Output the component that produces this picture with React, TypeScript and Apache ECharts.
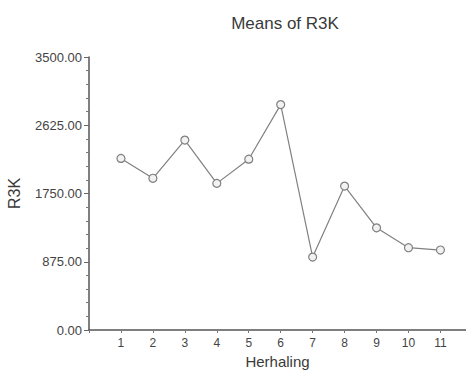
import React, { useEffect, useRef } from "react";
import * as echarts from "echarts";

const categories = [1, 2, 3, 4, 5, 6, 7, 8, 9, 10, 11];
const means = [2200, 1945, 2435, 1880, 2190, 2890, 935, 1845, 1310, 1055, 1025];
const yTicks = [0, 875, 1750, 2625, 3500];

export default function App() {
  const ref = useRef<HTMLDivElement>(null);
  useEffect(() => {
    const chart = echarts.init(ref.current!, null, { renderer: "svg" });
    const font = "Liberation Sans, Arial, sans-serif";
    chart.setOption({
      animation: false,
      backgroundColor: "#ffffff",
      title: {
        text: "Means of R3K",
        left: 280,
        top: 10,
        textAlign: "center",
        textStyle: { fontFamily: font, fontSize: 17, fontWeight: "normal", color: "#3a3a3a" },
      },
      grid: { left: 89, right: 0, top: 57, bottom: 42, containLabel: false, outerBoundsMode: "none" },
      xAxis: {
        type: "value",
        min: 0,
        max: 11.8,
        interval: 1,
        name: "Herhaling",
        nameLocation: "middle",
        nameGap: 24,
        nameTextStyle: { fontFamily: font, fontSize: 15, color: "#3a3a3a" },
        axisLine: { show: true, lineStyle: { color: "#555", width: 1.5 } },
        axisTick: { show: true, length: 3, lineStyle: { color: "#777" } },
        axisLabel: {
          fontFamily: font,
          fontSize: 12,
          color: "#444",
          margin: 7,
          showMaxLabel: false,
          formatter: (v: number) => (categories.includes(v) ? String(v) : ""),
        },
        splitLine: { show: false },
      },
      yAxis: {
        type: "value",
        min: yTicks[0],
        max: yTicks[yTicks.length - 1],
        interval: 875,
        name: "R3K",
        nameLocation: "middle",
        nameGap: 67,
        nameRotate: 90,
        nameTextStyle: { fontFamily: font, fontSize: 16, color: "#3a3a3a" },
        axisLine: { show: true, lineStyle: { color: "#555", width: 1.5 } },
        axisTick: { show: true, length: 5, lineStyle: { color: "#666" } },
        minorTick: { show: true, splitNumber: 5, length: 3, lineStyle: { color: "#777" } },
        axisLabel: {
          fontFamily: font,
          fontSize: 13,
          color: "#444",
          margin: 7,
          formatter: (v: number) => v.toFixed(2),
        },
        splitLine: { show: false },
      },
      series: [
        {
          type: "line",
          data: categories.map((c, i) => [c, means[i]]),
          symbol: "circle",
          symbolSize: 8,
          itemStyle: { color: "#f2f2f2", borderColor: "#808080", borderWidth: 1.2 },
          lineStyle: { color: "#808080", width: 1.2 },
        },
      ],
    });
    return () => chart.dispose();
  }, []);
  return <div ref={ref} style={{ width: 466, height: 372, position: "absolute", left: 0, top: 0 }} />;
}
